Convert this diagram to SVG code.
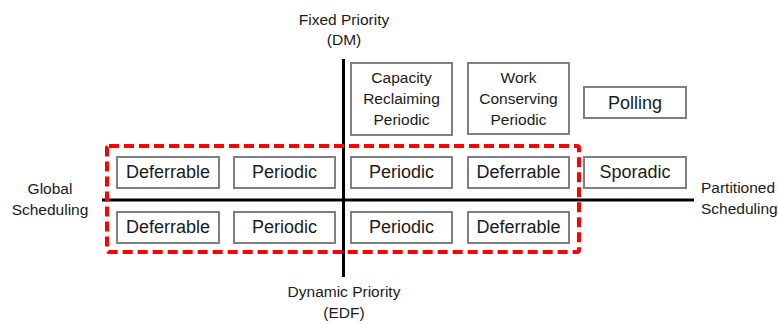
<svg xmlns="http://www.w3.org/2000/svg" width="778" height="324" viewBox="0 0 778 324">
<style>
text{font-family:"Liberation Sans",Arial,sans-serif;fill:#1a1a1a;text-anchor:middle}
.box{fill:#fff;stroke:#808080;stroke-width:2}
.lbl{font-size:18px}
.sm{font-size:15.5px}
.ax{font-size:15.5px}
.axis{stroke:#000;stroke-width:3}
</style>
<rect width="778" height="324" fill="#fff"/>
<g id="axes">
<line class="axis" x1="343.5" y1="59" x2="343.5" y2="277"/>
<line class="axis" x1="102" y1="200" x2="694" y2="200"/>
</g>
<g id="labels">
<text class="ax" x="344" y="25">Fixed Priority</text>
<text class="ax" x="344" y="45">(DM)</text>
<text class="ax" x="344" y="297">Dynamic Priority</text>
<text class="ax" x="344" y="318">(EDF)</text>
<text class="ax" x="50" y="194">Global</text>
<text class="ax" x="50" y="215">Scheduling</text>
<text class="ax" x="701" y="193" style="text-anchor:start">Partitioned</text>
<text class="ax" x="701" y="214" style="text-anchor:start">Scheduling</text>
</g>
<g id="n-capacity"><rect class="box" x="351" y="63" width="101" height="72"/>
<text class="sm" x="401.5" y="83">Capacity</text><text class="sm" x="401.5" y="104">Reclaiming</text><text class="sm" x="401.5" y="125">Periodic</text></g>
<g id="n-work"><rect class="box" x="468" y="63" width="101" height="71"/>
<text class="sm" x="518.5" y="83">Work</text><text class="sm" x="518.5" y="104">Conserving</text><text class="sm" x="518.5" y="125">Periodic</text></g>
<g id="n-polling"><rect class="box" x="584" y="87" width="102" height="31"/><text class="lbl" x="635" y="109">Polling</text></g>
<g id="n-def-g-fp"><rect class="box" x="117" y="157" width="102" height="31"/><text class="lbl" x="168" y="178">Deferrable</text></g>
<g id="n-per-g-fp"><rect class="box" x="234" y="157" width="101" height="31"/><text class="lbl" x="284.5" y="178">Periodic</text></g>
<g id="n-per-p-fp"><rect class="box" x="351" y="157" width="101" height="31"/><text class="lbl" x="401.5" y="178">Periodic</text></g>
<g id="n-def-p-fp"><rect class="box" x="468" y="157" width="101" height="31"/><text class="lbl" x="518.5" y="178">Deferrable</text></g>
<g id="n-sporadic"><rect class="box" x="584" y="157" width="102" height="31"/><text class="lbl" x="635" y="178">Sporadic</text></g>
<g id="n-def-g-dp"><rect class="box" x="117" y="212" width="102" height="31"/><text class="lbl" x="168" y="233">Deferrable</text></g>
<g id="n-per-g-dp"><rect class="box" x="234" y="212" width="101" height="31"/><text class="lbl" x="284.5" y="233">Periodic</text></g>
<g id="n-per-p-dp"><rect class="box" x="351" y="212" width="101" height="31"/><text class="lbl" x="401.5" y="233">Periodic</text></g>
<g id="n-def-p-dp"><rect class="box" x="468" y="212" width="101" height="31"/><text class="lbl" x="518.5" y="233">Deferrable</text></g>
<g id="highlight">
<rect x="107" y="146" width="472" height="106" rx="2" fill="none" stroke="#ff0000" stroke-width="4" stroke-dasharray="10 5"/>
</g>
</svg>
